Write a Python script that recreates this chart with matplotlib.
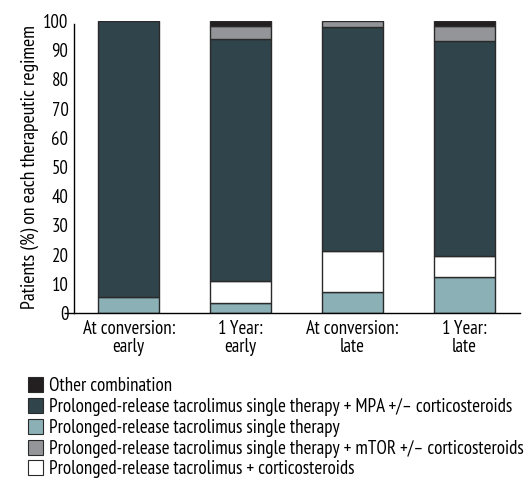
import matplotlib
matplotlib.use("Agg")
import matplotlib.pyplot as plt
from matplotlib.patches import Rectangle
from matplotlib import font_manager as fm
import numpy as np

available = {f.name for f in fm.fontManager.ttflist}
prefs = ['PT Sans Narrow', 'Roboto Condensed', 'Fira Sans Condensed', 'Open Sans Condensed',
         'Archivo Narrow', 'Liberation Sans Narrow']
chosen = [p for p in prefs if p in available][:1]
plt.rcParams['font.family'] = chosen + ['DejaVu Sans']

categories = ["At conversion:\nearly", "1 Year:\nearly", "At conversion:\nlate", "1 Year:\nlate"]
single = [5.5, 3.4, 7.2, 12.3]
cortico = [0.0, 7.6, 14.0, 7.2]
mpa = [94.5, 83.0, 76.8, 73.7]
mtor = [0.0, 4.3, 2.0, 5.1]
other = [0.0, 1.7, 0.0, 1.7]
yticks = [0, 10, 20, 30, 40, 50, 60, 70, 80, 90, 100]
legend_labels = ["Other combination",
                 "Prolonged-release tacrolimus single therapy + MPA +/\u2013 corticosteroids",
                 "Prolonged-release tacrolimus single therapy",
                 "Prolonged-release tacrolimus single therapy + mTOR +/\u2013 corticosteroids",
                 "Prolonged-release tacrolimus + corticosteroids"]
ylabel = "Patients (%) on each therapeutic regimem"

c_other = "#231f20"
c_mpa = "#30444b"
c_single = "#8bb0b6"
c_mtor = "#939598"
c_cort = "#ffffff"
edge = "#2a2a2a"

W, H = 528, 480
fig = plt.figure(figsize=(W / 100, H / 100), dpi=100)
renderer = fig.canvas.get_renderer()


def fit_size(s, target_px, base=12.0):
    t = fig.text(0, 0, s, fontsize=base)
    wpx = t.get_window_extent(renderer).width
    t.remove()
    return base * target_px / wpx


fs_leg = fit_size(legend_labels[1], 463)
fs_xt = fit_size("At conversion:", 92)
fs_yt = fit_size("100", 25)
fs_yl = fit_size(ylabel, 283)

ax = fig.add_axes([74 / W, 1 - 313 / H, 446 / W, 292 / H])

x = np.arange(len(categories))
w = 0.545
series = [(single, c_single), (cortico, c_cort), (mpa, c_mpa), (mtor, c_mtor), (other, c_other)]
bottom = np.zeros(len(categories))
for vals, col in series:
    v = np.array(vals)
    mask = v > 0
    ax.bar(x[mask], v[mask], w, bottom=bottom[mask], color=col, edgecolor=edge, linewidth=1.0)
    bottom += v

ax.set_xlim(-0.49, 3.5)
ax.set_ylim(0, 100)
ax.set_xticks(x)
ax.set_xticklabels(categories, fontsize=fs_xt, linespacing=1.0)
ax.set_yticks(yticks)
ax.set_yticklabels([str(t) for t in yticks], fontsize=fs_yt)
ax.tick_params(axis='x', length=0, pad=5)
ax.tick_params(axis='y', length=0, pad=4, width=1.0)
ax.yaxis.get_major_ticks()[0].tick1line.set_markersize(7)
for s in ['top', 'right']:
    ax.spines[s].set_visible(False)
ax.spines['left'].set_linewidth(1.0)
ax.spines['bottom'].set_linewidth(1.0)
ax.spines['left'].set_bounds(0, 99)
ax.set_ylabel(ylabel, fontsize=fs_yl, labelpad=3)

colors = [c_other, c_mpa, c_single, c_mtor, c_cort]
row_y = [384, 405, 426, 447, 467.5]
for lab, col, yc in zip(legend_labels, colors, row_y):
    fig.patches.append(Rectangle((28 / W, 1 - (yc + 7.5) / H), 15 / W, 15 / H,
                                 transform=fig.transFigure, facecolor=col,
                                 edgecolor=edge, linewidth=0.8))
    fig.text(49 / W, 1 - yc / H, lab, fontsize=fs_leg, va='center_baseline', ha='left')

fig.savefig("out.png", dpi=100)
